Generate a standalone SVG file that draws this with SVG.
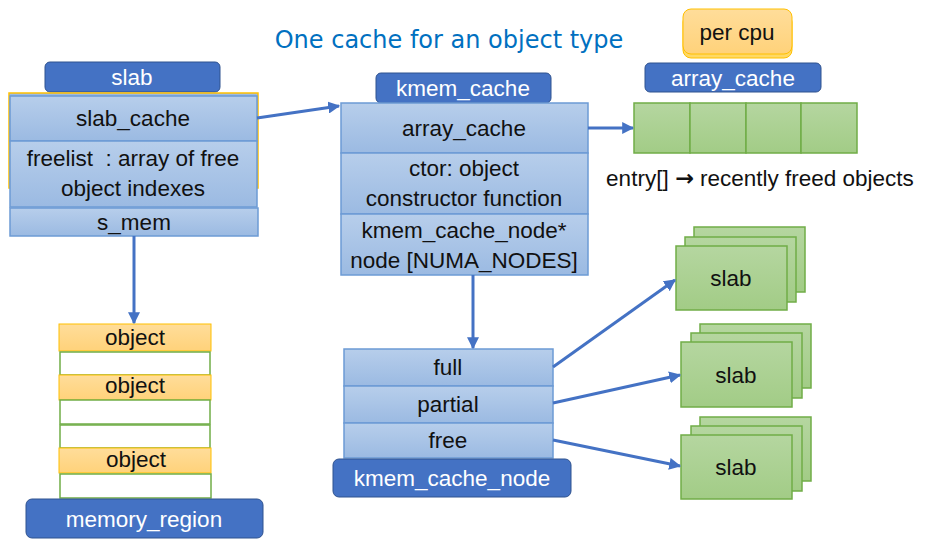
<svg xmlns="http://www.w3.org/2000/svg" width="927" height="539" viewBox="0 0 927 539">
<defs>
<linearGradient id="gBlue" x1="0" y1="0" x2="0" y2="1"><stop offset="0" stop-color="#B7CEEB"/><stop offset="1" stop-color="#9BBAE2"/></linearGradient>
<linearGradient id="gGreen" x1="0" y1="0" x2="0" y2="1"><stop offset="0" stop-color="#B5D6A0"/><stop offset="1" stop-color="#A2CC86"/></linearGradient>
<linearGradient id="gOrange" x1="0" y1="0" x2="0" y2="1"><stop offset="0" stop-color="#FFDD9A"/><stop offset="1" stop-color="#FFD27A"/></linearGradient>
<marker id="arr" viewBox="0 0 10 10" refX="9" refY="5" markerWidth="4" markerHeight="4" orient="auto" markerUnits="strokeWidth"><path d="M0,0 L10,5 L0,10 z" fill="#4472C4"/></marker>
<style>
text{font-family:"Liberation Sans",Arial,sans-serif;font-size:22.5px;text-anchor:middle;fill:#111;white-space:pre}
.lbl{fill:#4472C4;stroke:#2F528F;stroke-width:1}
.lbl-t{fill:#fff}
.cell{fill:url(#gBlue);stroke:#6C9BD5;stroke-width:1.5}
.green{fill:url(#gGreen);stroke:#70AD47;stroke-width:1.5}
.obj{fill:url(#gOrange);stroke:#FFC000;stroke-width:1}
.empty{fill:#fff;stroke:#70AD47;stroke-width:1.5}
.conn{stroke:#4472C4;stroke-width:3;fill:none;marker-end:url(#arr)}
</style>
</defs>
<rect width="927" height="539" fill="#fff"/>
<text x="449" y="48" style="fill:#0070C0;font-size:24px;font-family:'DejaVu Sans',sans-serif">One cache for an object type</text>

<g id="slab">
<rect class="lbl" x="45" y="62" width="175" height="30" rx="5"/>
<text class="lbl-t" x="132" y="85">slab</text>
<rect x="9" y="93" width="249" height="95" fill="#9BBAE2" stroke="#FFC000" stroke-width="1.5"/>
<rect class="cell" x="10" y="96" width="247" height="45"/>
<text x="133" y="126">slab_cache</text>
<rect class="cell" x="10" y="141" width="247" height="66"/>
<text x="133" y="166">freelist  : array of free</text>
<text x="133" y="196">object indexes</text>
<rect class="cell" x="10" y="208" width="248" height="28"/>
<text x="134" y="230">s_mem</text>
</g>

<g id="kmem_cache">
<rect class="lbl" x="376" y="73" width="175" height="30" rx="5"/>
<text class="lbl-t" x="463" y="96">kmem_cache</text>
<rect class="cell" x="341" y="103" width="247" height="50"/>
<text x="464" y="136">array_cache</text>
<rect class="cell" x="341" y="153" width="247" height="61"/>
<text x="464" y="176">ctor: object</text>
<text x="464" y="206">constructor function</text>
<rect class="cell" x="341" y="214" width="247" height="61"/>
<text x="464" y="238">kmem_cache_node*</text>
<text x="464" y="268">node [NUMA_NODES]</text>
</g>

<g id="per_cpu">
<rect x="683" y="14" width="109" height="44" rx="8" fill="#FFD966" stroke="#FFC000" stroke-width="1"/>
<rect x="683" y="9" width="109" height="45" rx="8" fill="url(#gOrange)" stroke="#FFC000" stroke-width="1"/>
<text x="737" y="40">per cpu</text>
</g>

<g id="array_cache">
<rect class="lbl" x="645" y="63" width="176" height="29" rx="5"/>
<text class="lbl-t" x="733" y="86">array_cache</text>
<rect class="green" x="634" y="103" width="56" height="50"/>
<rect class="green" x="690" y="103" width="56" height="50"/>
<rect class="green" x="746" y="103" width="55" height="50"/>
<rect class="green" x="801" y="103" width="56" height="50"/>
<text x="760" y="186">entry[] <tspan style="font-family:'DejaVu Sans',sans-serif;font-weight:bold">→</tspan> recently freed objects</text>
</g>

<g id="memory_region">
<rect class="obj" x="59" y="324" width="152" height="27"/>
<text x="135" y="345">object</text>
<rect class="empty" x="60" y="352" width="150" height="23"/>
<rect class="obj" x="59" y="375" width="152" height="25"/>
<text x="135" y="393">object</text>
<rect class="empty" x="60" y="400" width="150" height="24"/>
<rect class="empty" x="60" y="425" width="150" height="23"/>
<rect class="obj" x="59" y="448" width="152" height="25"/>
<text x="136" y="467">object</text>
<rect class="empty" x="60" y="474" width="151" height="24"/>
<rect class="lbl" x="26" y="499" width="237" height="39" rx="6"/>
<text class="lbl-t" x="144" y="527">memory_region</text>
</g>

<g id="kmem_cache_node">
<rect class="cell" x="344" y="349" width="209" height="37"/>
<text x="448" y="375">full</text>
<rect class="cell" x="344" y="386" width="209" height="37"/>
<text x="448" y="412">partial</text>
<rect class="cell" x="344" y="423" width="209" height="35"/>
<text x="448" y="448">free</text>
<rect class="lbl" x="333" y="459" width="238" height="38" rx="6"/>
<text class="lbl-t" x="452" y="486">kmem_cache_node</text>
</g>

<g id="slab_full">
<rect class="green" x="694" y="227" width="111" height="65"/>
<rect class="green" x="685" y="237" width="111" height="65"/>
<rect class="green" x="676" y="246" width="111" height="64"/>
<text x="731" y="286">slab</text>
</g>
<g id="slab_partial">
<rect class="green" x="700" y="324" width="111" height="64"/>
<rect class="green" x="691" y="333" width="111" height="65"/>
<rect class="green" x="681" y="342" width="111" height="65"/>
<text x="736" y="383">slab</text>
</g>
<g id="slab_free">
<rect class="green" x="700" y="417" width="111" height="64"/>
<rect class="green" x="691" y="426" width="111" height="65"/>
<rect class="green" x="681" y="435" width="111" height="64"/>
<text x="736" y="475">slab</text>
</g>

<g id="connectors">
<line class="conn" x1="257" y1="118" x2="339" y2="106"/>
<line class="conn" x1="588" y1="128" x2="633" y2="128"/>
<line class="conn" x1="134" y1="236" x2="134" y2="323"/>
<line class="conn" x1="473" y1="275" x2="473" y2="348"/>
<line class="conn" x1="553" y1="367" x2="675" y2="280"/>
<line class="conn" x1="553" y1="403" x2="680" y2="375"/>
<line class="conn" x1="553" y1="440" x2="680" y2="466"/>
</g>
</svg>
